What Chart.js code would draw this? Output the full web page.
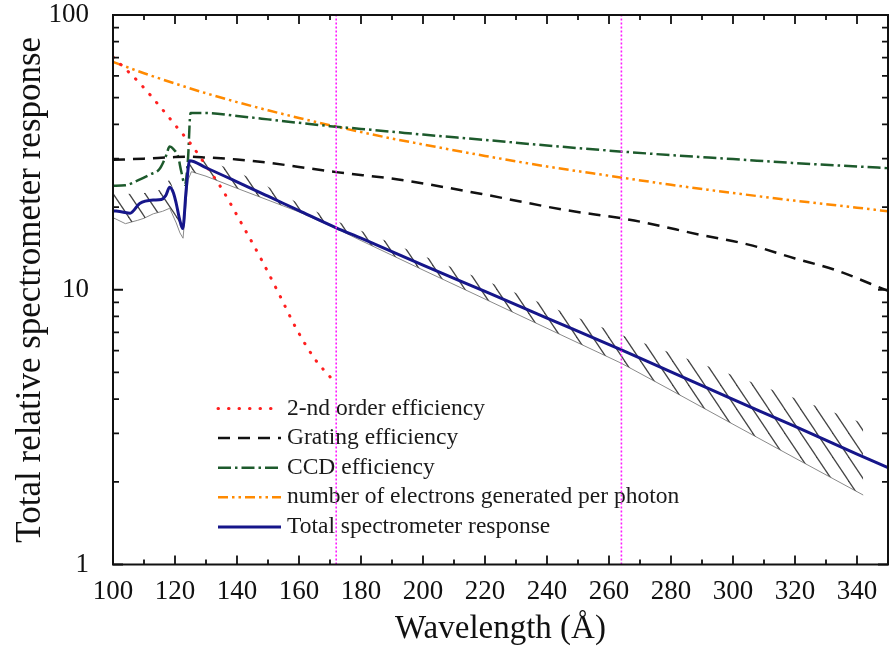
<!DOCTYPE html>
<html>
<head>
<meta charset="utf-8">
<script src="https://cdn.jsdelivr.net/npm/chart.js@4.4.1/dist/chart.umd.min.js"></script>
<style>
  html, body { margin: 0; padding: 0; background: #fff; }
  #wrap { width: 891px; height: 652px; }
</style>
</head>
<body>
<div id="wrap"><canvas id="responseChart" width="891" height="652"></canvas></div>
<script>
// Values (wavelength in Å, relative response)
const secondOrderX = [100, 108.6, 115.6, 120.5, 125.3, 130, 135, 142, 148, 153.6, 159.2, 165.2, 170.5];
const secondOrderY = [70.3, 56.5, 45.8, 39.2, 33.7, 28.3, 23.4, 17.0, 12.8, 9.63, 7.2, 5.58, 4.75];

const gratingX = [100, 110, 120, 125, 130, 140, 150, 160, 172, 192, 219, 246, 264, 270, 290, 305, 320, 333, 350];
const gratingY = [29.7, 30.0, 30.4, 30.5, 30.3, 29.8, 29.0, 28.0, 26.8, 25.2, 22.3, 19.5, 18.2, 17.7, 15.8, 14.6, 13.0, 11.8, 9.9];

const ccdX = [100, 104, 108, 112, 115, 117, 118.3, 119.5, 121, 122, 123.2, 124.2, 125, 130, 140, 150, 160, 170, 180, 190, 200, 220, 240, 260, 280, 300, 320, 340, 350];
const ccdY = [23.9, 24.0, 25.0, 26.3, 27.5, 30.5, 33.2, 32.5, 30.5, 27.0, 24.1, 30.0, 44.0, 44.0, 42.9, 41.7, 40.5, 39.4, 38.5, 37.6, 36.7, 35.1, 33.5, 32.1, 30.9, 29.9, 28.9, 28.1, 27.7];

const electronsX = [100, 110, 120, 130, 140, 150, 160, 170, 180, 190, 200, 220, 240, 260, 280, 300, 320, 340, 350];
const electronsY = [67.5, 61.4, 56.3, 51.9, 48.2, 45.0, 42.2, 39.7, 37.5, 35.5, 33.8, 30.7, 28.1, 26.0, 24.1, 22.5, 21.1, 19.9, 19.3];

const totalX = [100, 103, 105.5, 108.6, 113, 115.6, 117, 118.3, 119.5, 120.4, 121.5, 122.5, 123.6, 124.7, 130, 140, 150, 160, 172, 180, 200, 220, 240, 264, 280, 300, 320, 340, 350];
const totalY = [19.4, 19.2, 19.0, 20.6, 21.2, 21.3, 22.0, 23.6, 22.5, 20.6, 18.0, 16.7, 23.1, 29.5, 27.8, 24.7, 21.9, 19.4, 16.8, 15.4, 12.3, 9.86, 7.89, 6.04, 5.02, 3.99, 3.18, 2.52, 2.25];

// uncertainty band around the total response (hatched)
const bandX = [100, 104, 108, 110, 113, 116, 118.3, 120.4, 121.6, 122.6, 124.2, 125.3, 130, 140, 150, 160, 172, 180, 200, 220, 240, 264, 280, 300, 320, 342];
const bandUpper = [22.3, 22.3, 22.4, 22.5, 22.7, 23.3, 25.3, 21.5, 18.5, 17.0, 25.5, 30.5, 29.7, 26.9, 23.7, 20.6, 17.8, 16.4, 13.3, 10.8, 8.77, 6.85, 5.89, 4.88, 4.03, 3.27];
const bandLower = [18.3, 17.4, 17.9, 18.2, 18.9, 19.3, 19.8, 17.5, 16.1, 15.4, 25.1, 26.9, 25.9, 23.4, 21.2, 19.2, 16.7, 15.1, 11.8, 9.25, 7.24, 5.40, 4.31, 3.24, 2.44, 1.79];

// marked wavelengths (vertical dotted lines)
const markerLines = [172, 264];

const xTickValues = [100, 120, 140, 160, 180, 200, 220, 240, 260, 280, 300, 320, 340];
const yTickValues = [1, 10, 100];

const legendLabels = [
    "2-nd order efficiency",
    "Grating efficiency",
    "CCD efficiency",
    "number of electrons generated per photon",
    "Total spectrometer response"
];

const serif = "'Liberation Serif', 'Times New Roman', serif";

function toPoints(xs, ys) {
    return xs.map((x, i) => ({ x: x, y: ys[i] }));
}

// steep diagonal hatch pattern for the band
function makeHatch() {
    const w = 16, h = 24;
    const c = document.createElement("canvas");
    c.width = w; c.height = h;
    const g = c.getContext("2d");
    g.strokeStyle = "#444444";
    g.lineWidth = 1.25;
    [-w, 0, w].forEach(dx => {
        g.beginPath();
        g.moveTo(dx - w, -h);
        g.lineTo(dx + 2 * w, 2 * h);
        g.stroke();
    });
    return g.createPattern(c, "repeat");
}

const lineStyles = [
    { color: "#ff2020", dash: [0.5, 10], width: 3, cap: "round" },
    { color: "#111111", dash: [12, 8], width: 2.5, cap: "butt" },
    { color: "#1d5a2c", dash: [13, 4, 2.5, 4], width: 2.5, cap: "butt" },
    { color: "#ff8a00", dash: [10, 4, 2.5, 4, 2.5, 4], width: 2.5, cap: "butt" },
    { color: "#16168a", dash: [], width: 3, cap: "butt" }
];

function lineDataset(label, xs, ys, style, order) {
    return {
        label: label,
        data: toPoints(xs, ys),
        borderColor: style.color,
        borderWidth: style.width,
        borderDash: style.dash,
        borderCapStyle: style.cap,
        pointRadius: 0,
        fill: false,
        cubicInterpolationMode: "monotone",
        order: order
    };
}

// legend drawn inside the plot, under the marker lines
const insideLegend = {
    id: "insideLegend",
    beforeDatasetsDraw(chart) {
        const ctx = chart.ctx;
        ctx.save();
        ctx.font = "23.5px " + serif;
        ctx.fillStyle = "#1a1a1a";
        ctx.textBaseline = "middle";
        legendLabels.forEach((text, i) => {
            const y = 408.5 + i * 29.6;
            const s = lineStyles[i];
            ctx.strokeStyle = s.color;
            ctx.lineWidth = s.width;
            ctx.lineCap = s.cap;
            ctx.setLineDash(s.dash);
            ctx.beginPath();
            ctx.moveTo(218, y);
            ctx.lineTo(281, y);
            ctx.stroke();
            ctx.setLineDash([]);
            ctx.fillText(text, 287, y);
        });
        ctx.restore();
    }
};

// boxed frame with inward ticks on all four sides
const frameTicks = {
    id: "frameTicks",
    afterDatasetsDraw(chart) {
        const { ctx, chartArea: a, scales } = chart;
        const xs = scales.x, ys = scales.y;
        ctx.save();
        ctx.strokeStyle = "#111";
        ctx.lineWidth = 2;
        ctx.strokeRect(a.left, a.top, a.right - a.left, a.bottom - a.top);
        ctx.lineWidth = 1.8;
        ctx.beginPath();
        for (let v = 100; v <= 350; v += 10) {
            const px = xs.getPixelForValue(v);
            const len = (v % 20 === 0) ? 9 : 5;
            ctx.moveTo(px, a.bottom); ctx.lineTo(px, a.bottom - len);
            ctx.moveTo(px, a.top); ctx.lineTo(px, a.top + len);
        }
        [1, 10].forEach(dec => {
            for (let m = 1; m <= 10; m++) {
                const py = ys.getPixelForValue(dec * m);
                const len = (m === 1 || m === 10) ? 10 : 6;
                ctx.moveTo(a.left, py); ctx.lineTo(a.left + len, py);
                ctx.moveTo(a.right, py); ctx.lineTo(a.right - len, py);
            }
        });
        ctx.stroke();
        ctx.restore();
    }
};

const datasets = [];
markerLines.forEach(x => {
    datasets.push({
        data: [{ x: x, y: 1 }, { x: x, y: 100 }],
        borderColor: "#ff1aff",
        borderWidth: 1.6,
        borderDash: [2, 2],
        pointRadius: 0,
        fill: false,
        order: 1
    });
});
datasets.push(lineDataset(legendLabels[4], totalX, totalY, lineStyles[4], 2));
datasets.push(lineDataset(legendLabels[0], secondOrderX, secondOrderY, lineStyles[0], 5));
datasets.push(lineDataset(legendLabels[1], gratingX, gratingY, lineStyles[1], 5));
datasets.push(lineDataset(legendLabels[2], ccdX, ccdY, lineStyles[2], 5));
datasets.push(lineDataset(legendLabels[3], electronsX, electronsY, lineStyles[3], 5));
datasets.push({
    label: "band upper",
    data: toPoints(bandX, bandUpper),
    borderWidth: 0,
    borderColor: "rgba(0,0,0,0)",
    backgroundColor: makeHatch(),
    pointRadius: 0,
    fill: "+1",
    order: 10
});
datasets.push({
    label: "band lower",
    data: toPoints(bandX, bandLower),
    borderWidth: 1,
    borderColor: "#8a8a8a",
    pointRadius: 0,
    fill: false,
    order: 10
});

new Chart(document.getElementById("responseChart"), {
    type: "line",
    data: { datasets: datasets },
    options: {
        responsive: false,
        animation: false,
        devicePixelRatio: 1,
        layout: { padding: { top: 15, right: 3, left: 0, bottom: 0 } },
        plugins: {
            legend: { display: false },
            tooltip: { enabled: false }
        },
        scales: {
            x: {
                type: "linear",
                min: 100,
                max: 350,
                grid: { display: false },
                border: { display: false },
                afterBuildTicks: scale => { scale.ticks = xTickValues.map(v => ({ value: v })); },
                afterFit: scale => {
                    scale.height = 87.5;
                    scale.paddingLeft = 0;
                    scale.paddingRight = 0;
                },
                ticks: {
                    font: { family: serif, size: 27 },
                    color: "#111",
                    padding: 3,
                    maxRotation: 0,
                    autoSkip: false
                },
                title: {
                    display: true,
                    text: "Wavelength (Å)",
                    font: { family: serif, size: 33 },
                    color: "#111",
                    padding: { top: 0, bottom: 3 }
                }
            },
            y: {
                type: "logarithmic",
                min: 1,
                max: 100,
                grid: { display: false },
                border: { display: false },
                afterBuildTicks: scale => { scale.ticks = yTickValues.map(v => ({ value: v })); },
                afterFit: scale => {
                    scale.width = 113;
                    scale.paddingTop = 0;
                    scale.paddingBottom = 0;
                },
                ticks: {
                    font: { family: serif, size: 27 },
                    color: "#111",
                    padding: 16,
                    callback: v => String(v)
                },
                title: {
                    display: true,
                    text: "Total relative spectrometer response",
                    font: { family: serif, size: 35 },
                    color: "#111",
                    padding: { top: 10, bottom: 0 }
                }
            }
        }
    },
    plugins: [insideLegend, frameTicks]
});
</script>
</body>
</html>
